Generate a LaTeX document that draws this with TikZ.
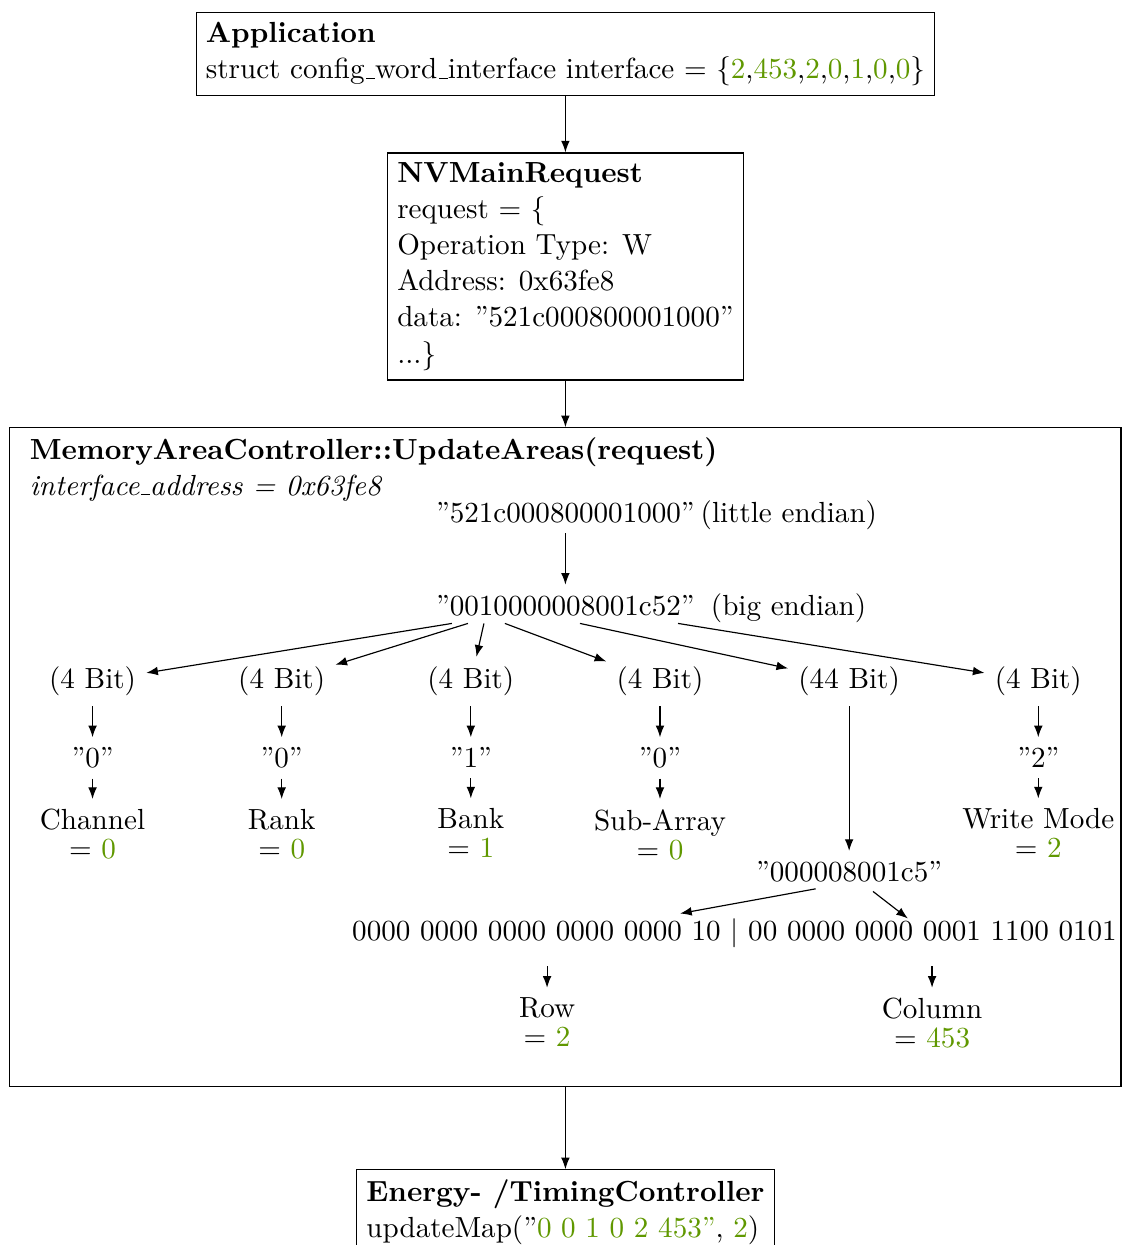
\documentclass[tikz,border=0pt]{standalone}
\usepackage{xcolor}
\usepackage{tikz}
\usetikzlibrary{calc, positioning, arrows.meta}
\definecolor{valgreen}{RGB}{96,152,0}
\newcommand{\val}[1]{\textcolor{valgreen}{#1}}
\newcommand{\qt}[1]{\textquotedblright#1\textquotedblright}
\newcommand{\us}{\leavevmode\kern.06em\vbox{\hrule width.3em}}
\tikzset{
  box/.style={draw, align=left, font=\fontsize{10pt}{12.4pt}\selectfont},
  field/.style={align=center, font=\fontsize{10pt}{10pt}\selectfont},
}
\begin{document}
\begin{tikzpicture}[>={Latex[length=4pt,width=3pt]}]
\useasboundingbox (0,0) rectangle (386.25pt,-427.84pt);
% boxes %
\node[box] (app) at (194.3pt,-18.6pt) {\textbf{Application}\\ struct config\us word\us interface interface = \{\val{2},\val{453},\val{2},\val{0},\val{1},\val{0},\val{0}\}};
\node[box, below=19.3pt of app] (req) {\textbf{NVMainRequest}\\ request = \{\\ Operation Type: W\\ Address: 0x63fe8\\ data: \qt{521c000800001000}\\ ...\}};
\node[draw, minimum width=381.8pt, minimum height=226.4pt, below=16pt of req] (mac) {};
\node[box, below=28.2pt of mac] (etc) {\textbf{Energy- /TimingController}\\ updateMap(\textquotedblright\val{0 0 1 0 2 453\textquotedblright}, \val{2})};
% inside MemoryAreaController %
\node[anchor=north west, align=left, font=\fontsize{10pt}{12.4pt}\selectfont] (title) at ($(mac.north west)+(3.5pt,0)$) {\textbf{MemoryAreaController::UpdateAreas(request)}\\ \textit{interface\us address = 0x63fe8}};
\node (le) at ($(mac.north)+(0,-29.4pt)$) {\qt{521c000800001000}};
\node[base right=-5pt of le] (leinfo) {(little endian)};
\node[below=17.6pt of le] (be) {\qt{0010000008001c52}};
\node[base right=-1.5pt of be] (beinfo) {(big endian)};
% bit fields %
\node (chbits) at ($(be)+(-162.5pt,-26.2pt)$) {(4 Bit)};
\node (rkbits) at ($(be)+(-97.5pt,-26.2pt)$) {(4 Bit)};
\node (bkbits) at ($(be)+(-32.5pt,-26.2pt)$) {(4 Bit)};
\node (sabits) at ($(be)+(32.5pt,-26.2pt)$) {(4 Bit)};
\node (rcbits) at ($(be)+(97.5pt,-26.2pt)$) {(44 Bit)};
\node (wmbits) at ($(be)+(162.5pt,-26.2pt)$) {(4 Bit)};
\node[below=10.6pt of chbits] (chval) {\qt{0}};
\node[below=10.6pt of rkbits] (rkval) {\qt{0}};
\node[below=10.6pt of bkbits] (bkval) {\qt{1}};
\node[below=10.6pt of sabits] (saval) {\qt{0}};
\node[below=10.6pt of wmbits] (wmval) {\qt{2}};
\node[field, below=7pt of chval] (chname) {Channel\\= \val{0}};
\node[field, below=7pt of rkval] (rkname) {Rank\\= \val{0}};
\node[field, below=7pt of bkval] (bkname) {Bank\\= \val{1}};
\node[field, below=7pt of saval] (saname) {Sub-Array\\= \val{0}};
\node[field, below=7pt of wmval] (wmname) {Write Mode\\= \val{2}};
% row / column split %
\node (c5) at ($(rcbits)+(0,-65.3pt)$) {\qt{000008001c5}};
\node[anchor=base] (bin) at ($(c5)+(-39.4pt,-23.5pt)$) {0000 0000 0000 0000 0000 10 $|$ 00 0000 0000 0001 1100 0101};
\node[field, anchor=north] (row) at ($(bin.base)+(-64.4pt,-16.4pt)$) {Row\\= \val{2}};
\node[field, anchor=north] (col) at ($(bin.base)+(67.9pt,-16.4pt)$) {Column\\= \val{453}};
% coordinates %
\coordinate (s1) at ($(be.south)+(-39pt,0.9pt)$);
\coordinate (s2) at ($(be.south)+(-33.5pt,0.9pt)$);
\coordinate (s3) at ($(be.south)+(-28pt,0.9pt)$);
\coordinate (s4) at ($(be.south)+(-20.8pt,0.9pt)$);
\coordinate (s5) at ($(be.south)+(5pt,0.9pt)$);
\coordinate (s6) at ($(be.south)+(38.7pt,0.9pt)$);
\coordinate (rowsrc) at ($(c5.south)+(-11.5pt,1.2pt)$);
\coordinate (colsrc) at ($(c5.south)+(8.2pt,0.3pt)$);
\coordinate (rowdst) at ($(bin.base)+(-18.7pt,9.1pt)$);
\coordinate (coldst) at ($(bin.base)+(59.6pt,7.4pt)$);
% edges %
\draw[->] (app) -- (req);
\draw[->] (req) -- (mac);
\draw[->] (mac) -- (etc);
\draw[->] (le) -- (be);
\draw[->] (s1) -- (chbits);
\draw[->] (s2) -- (rkbits);
\draw[->] (s3) -- (bkbits);
\draw[->] (s4) -- (sabits);
\draw[->] (s5) -- (rcbits);
\draw[->] (s6) -- (wmbits);
\draw[->] (chbits) -- (chval);
\draw[->] (rkbits) -- (rkval);
\draw[->] (bkbits) -- (bkval);
\draw[->] (sabits) -- (saval);
\draw[->] (wmbits) -- (wmval);
\draw[->] (chval) -- (chname);
\draw[->] (rkval) -- (rkname);
\draw[->] (bkval) -- (bkname);
\draw[->] (saval) -- (saname);
\draw[->] (wmval) -- (wmname);
\draw[->] (rcbits) -- (c5);
\draw[->] (rowsrc) -- (rowdst);
\draw[->] (colsrc) -- (coldst);
\draw[->, shorten <=3pt] (bin.south -| row.north) -- (row);
\draw[->, shorten <=3pt] (bin.south -| col.north) -- (col);
\end{tikzpicture}
\end{document}
